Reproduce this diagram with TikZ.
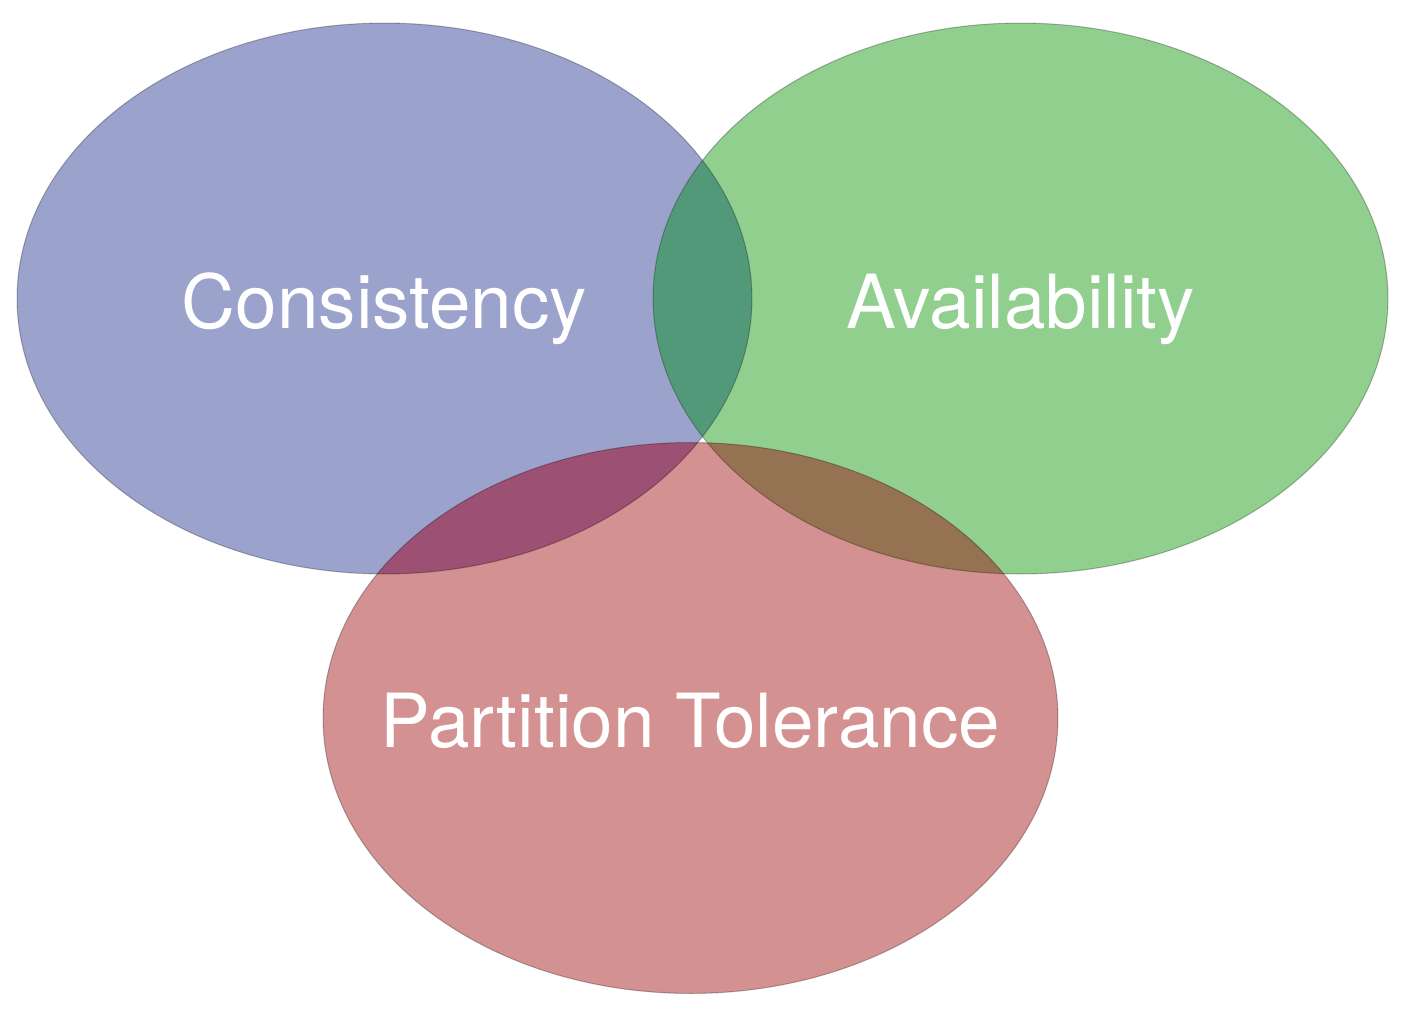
\documentclass[tikz,border=0pt]{standalone}
\usepackage{fontspec}
\setmainfont{TeX Gyre Heros}
\usetikzlibrary{shapes.geometric}
\definecolor{capblue}{HTML}{9BA3CD}
\definecolor{capgreen}{HTML}{91CF8F}
\definecolor{capred}{HTML}{D39191}
\definecolor{capbg}{HTML}{529979}
\definecolor{capbr}{HTML}{9C5073}
\definecolor{capgr}{HTML}{957352}
\tikzset{
    setring/.style={ellipse, draw=black, draw opacity=0.25, line width=0.6pt,
        minimum width=14.7cm, minimum height=11.02cm, inner sep=0pt},
    setlabel/.style={text=white, font=\fontsize{42.5}{50}\selectfont,
        text height=31pt, text depth=0pt, inner sep=0pt, yshift=-1.5pt}
}
\begin{document}
\begin{tikzpicture}[x=0.02cm, y=-0.02cm]
        \useasboundingbox (0,0) rectangle (1417,1022);
        % set centres
        \coordinate (c) at (384.5,298.5);
        \coordinate (a) at (1020.5,298.5);
        \coordinate (p) at (690.5,718);
        % fills
        \fill[capblue] (c) ellipse (367.5 and 275.5);
        \fill[capgreen] (a) ellipse (367.5 and 275.5);
        \fill[capred] (p) ellipse (367.5 and 275.5);
        % pairwise overlaps
        \begin{scope}
            \clip (c) ellipse (367.5 and 275.5);
            \fill[capbg] (a) ellipse (367.5 and 275.5);
            \fill[capbr] (p) ellipse (367.5 and 275.5);
        \end{scope}
        \begin{scope}
            \clip (a) ellipse (367.5 and 275.5);
            \fill[capgr] (p) ellipse (367.5 and 275.5);
        \end{scope}
        % outlines
        \node[setring] (consistency) at (c) {};
        \node[setring] (availability) at (a) {};
        \node[setring] (partition) at (p) {};
        % labels
        \node[setlabel] (consistencytext) at (consistency.center) {Consistency};
        \node[setlabel] (availabilitytext) at (availability.center) {Availability};
        \node[setlabel] (partitiontext) at (partition.center) {Partition Tolerance};
    \end{tikzpicture}
\end{document}
